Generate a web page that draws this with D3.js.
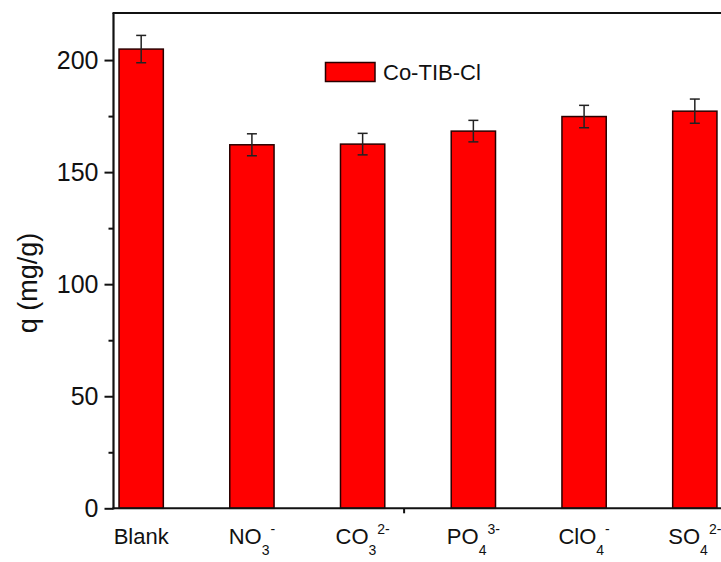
<!DOCTYPE html>
<html>
<head>
<meta charset="utf-8">
<script src="https://cdn.jsdelivr.net/npm/d3@7"></script>
<style>
  html, body { margin: 0; padding: 0; background: #fff; }
  svg { display: block; font-family: Arial, "Liberation Sans", sans-serif; }
</style>
</head>
<body>
<svg id="chart" width="721" height="562"></svg>
<script>
// ---- data ----
const categories = ["Blank", "NO3-", "CO32-", "PO43-", "ClO4-", "SO42-"];
const labelBase  = ["Blank", "NO", "CO", "PO", "ClO", "SO"];
const labelSub   = ["", "3", "3", "4", "4", "4"];
const labelSup   = ["", "-", "2-", "3-", "-", "2-"];
const values     = [204.9, 162.2, 162.5, 168.3, 174.8, 177.2];
const errors     = [6.1, 4.9, 4.8, 4.8, 5.0, 5.4];
const seriesName = "Co-TIB-Cl";
const yMajorTicks = [0, 50, 100, 150, 200];
const yMinorTicks = [25, 75, 125, 175];
const xExtraTicks = [3.37];
const yTitle = "q (mg/g)";

// ---- layout ----
const svg = d3.select("#chart");
const pLeft = 113.5, pRight = 722.5, pTop = 13, pBottom = 508.3;

const x = d3.scaleLinear().domain([0.75, 6.25]).range([pLeft, pRight]);
const y = d3.scaleLinear().domain([0, 221]).range([pBottom, pTop]);
const barW = x(1.4) - x(1.0);

const data = categories.map((c, i) => ({
  c, i: i + 1, v: values[i], e: errors[i],
  base: labelBase[i], sub: labelSub[i], sup: labelSup[i]
}));

// bars
svg.append("g").selectAll("rect").data(data).join("rect")
  .attr("x", d => x(d.i) - barW / 2)
  .attr("y", d => y(d.v))
  .attr("width", barW)
  .attr("height", d => y(0) - y(d.v))
  .attr("fill", "#ff0000")
  .attr("stroke", "#2a0000")
  .attr("stroke-width", 1.5);

// error bars
const eg = svg.append("g").attr("stroke", "#222").attr("stroke-width", 1.5);
eg.selectAll("line.v").data(data).join("line").attr("class", "v")
  .attr("x1", d => x(d.i)).attr("x2", d => x(d.i))
  .attr("y1", d => y(d.v + d.e)).attr("y2", d => y(d.v - d.e));
eg.selectAll("line.t").data(data).join("line").attr("class", "t")
  .attr("x1", d => x(d.i) - 5).attr("x2", d => x(d.i) + 5)
  .attr("y1", d => y(d.v + d.e)).attr("y2", d => y(d.v + d.e));
eg.selectAll("line.b").data(data).join("line").attr("class", "b")
  .attr("x1", d => x(d.i) - 5).attr("x2", d => x(d.i) + 5)
  .attr("y1", d => y(d.v - d.e)).attr("y2", d => y(d.v - d.e));

// frame / axes lines
const axisColor = "#111";
svg.append("line").attr("x1", pLeft).attr("x2", pLeft).attr("y1", pTop).attr("y2", pBottom + 1)
  .attr("stroke", axisColor).attr("stroke-width", 2.2);
svg.append("line").attr("x1", pLeft - 1).attr("x2", 721).attr("y1", pTop).attr("y2", pTop)
  .attr("stroke", axisColor).attr("stroke-width", 2.2);
svg.append("line").attr("x1", pLeft - 1).attr("x2", 721).attr("y1", pBottom).attr("y2", pBottom)
  .attr("stroke", axisColor).attr("stroke-width", 2);

// y axis ticks
const yAxis = d3.axisLeft(y).tickValues(yMajorTicks).tickSize(9).tickPadding(6).tickFormat(d3.format("d"));
const ya = svg.append("g").attr("transform", `translate(${pLeft},0)`).call(yAxis);
ya.select(".domain").remove();
ya.selectAll(".tick line").attr("stroke", axisColor).attr("stroke-width", 2);
ya.selectAll(".tick text").attr("font-size", 25).attr("fill", "#111")
  .attr("font-family", "Arial, 'Liberation Sans', sans-serif");

const yMinor = d3.axisLeft(y).tickValues(yMinorTicks).tickSize(5).tickFormat("");
const ym = svg.append("g").attr("transform", `translate(${pLeft},0)`).call(yMinor);
ym.select(".domain").remove();
ym.selectAll(".tick line").attr("stroke", axisColor).attr("stroke-width", 2);

// x extra tick
const xAx = d3.axisBottom(x).tickValues(xExtraTicks).tickSize(5).tickFormat("");
const xa = svg.append("g").attr("transform", `translate(0,${pBottom})`).call(xAx);
xa.select(".domain").remove();
xa.selectAll(".tick line").attr("stroke", axisColor).attr("stroke-width", 2);

// x category labels
const lbl = svg.append("g").selectAll("text").data(data).join("text")
  .attr("x", d => x(d.i))
  .attr("y", 544)
  .attr("text-anchor", "middle")
  .attr("font-size", 22)
  .attr("fill", "#111");
lbl.append("tspan").text(d => d.base);
lbl.filter(d => d.sub).append("tspan")
  .attr("font-size", 14).attr("dy", 11).text(d => d.sub);
lbl.filter(d => d.sup).append("tspan")
  .attr("font-size", 14).attr("dy", -21).attr("dx", 1).text(d => d.sup);

// y title
svg.append("text")
  .attr("transform", `translate(37, 283) rotate(-90)`)
  .attr("text-anchor", "middle")
  .attr("font-size", 27)
  .attr("fill", "#111")
  .text(yTitle);

// legend
svg.append("rect").attr("x", 325.5).attr("y", 62.5).attr("width", 49.5).attr("height", 19)
  .attr("fill", "#ff0000").attr("stroke", "#2a0000").attr("stroke-width", 1.5);
svg.append("text").attr("x", 383).attr("y", 80).attr("font-size", 22).attr("fill", "#111")
  .text(seriesName);
</script>
</body>
</html>
